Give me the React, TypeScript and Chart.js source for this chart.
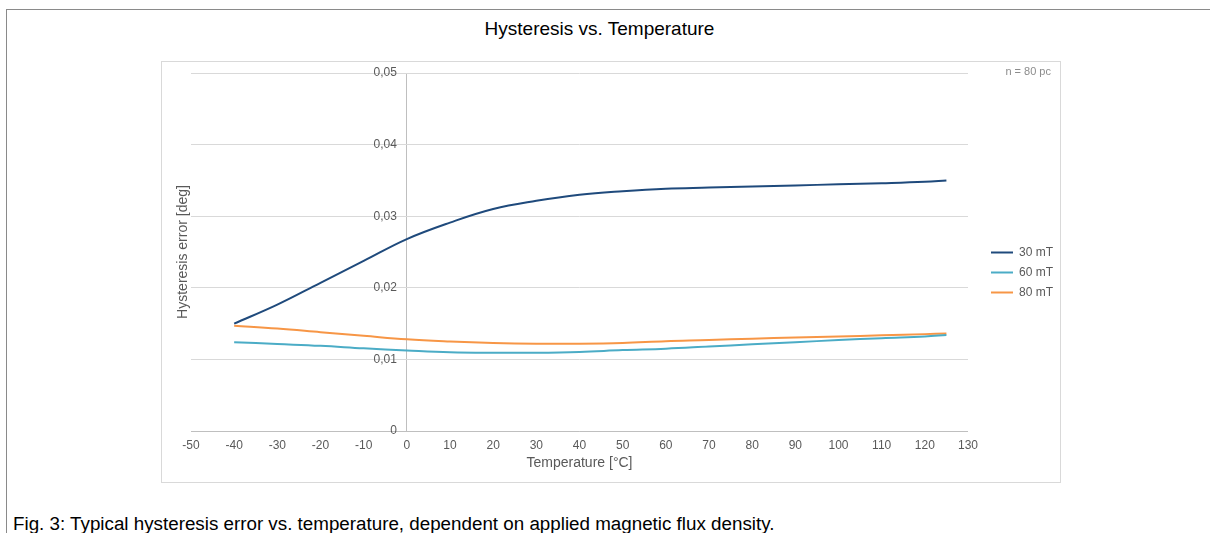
import React, { useEffect, useRef } from "react";
import { Chart, registerables } from "chart.js";

Chart.register(...registerables);

// ---- data ----
const temperatures = [-40, -30, -20, -10, 0, 10, 20, 30, 40, 50, 60, 70, 80, 90, 100, 110, 120, 125];
const series30mT = [0.015, 0.01765, 0.0207, 0.02375, 0.0268, 0.0291, 0.031, 0.03215, 0.033, 0.0335, 0.03385, 0.034, 0.03415, 0.0343, 0.03445, 0.0346, 0.0348, 0.035];
const series60mT = [0.0124, 0.01215, 0.0119, 0.01155, 0.01125, 0.011, 0.01093, 0.01094, 0.01105, 0.0113, 0.0115, 0.0118, 0.0121, 0.0124, 0.0127, 0.01297, 0.0132, 0.0134];
const series80mT = [0.0147, 0.0143, 0.0138, 0.0133, 0.0128, 0.0125, 0.0123, 0.0122, 0.0122, 0.0123, 0.01255, 0.0127, 0.0129, 0.01305, 0.0132, 0.01337, 0.01353, 0.0136];
const seriesLabels = ["30 mT", "60 mT", "80 mT"];
const seriesColors = ["#1f4a7c", "#4bacc6", "#f79646"];

const xMin = -50;
const xMax = 130;
const xStep = 10;
const yMin = 0;
const yMax = 0.05;
const yStep = 0.01;
const yAxisAt = 0; // the value axis crosses the temperature axis at 0 °C

const chartTitle = "Hysteresis vs. Temperature";
const xTitle = "Temperature [°C]";
const yTitle = "Hysteresis error [deg]";
const sampleNote = "n = 80 pc";
const caption = "Fig. 3: Typical hysteresis error vs. temperature, dependent on applied magnetic flux density.";

const FONT = '"Liberation Sans", Arial, Helvetica, sans-serif';
const GRAY = "#595959";
const LABEL_GAP_PX = 10;

const yTitlePlugin = {
  id: "yTitleDraw",
  afterDraw(chart: any) {
    const { ctx, chartArea } = chart;
    ctx.save();
    ctx.translate(chartArea.left - 8, (chartArea.top + chartArea.bottom) / 2);
    ctx.rotate(-Math.PI / 2);
    ctx.textAlign = "center";
    ctx.textBaseline = "middle";
    ctx.fillStyle = GRAY;
    ctx.font = `14px ${FONT}`;
    ctx.fillText(yTitle, 0, 0);
    ctx.restore();
  },
};

function HysteresisChart() {
  const ref = useRef<HTMLCanvasElement | null>(null);
  useEffect(() => {
    if (!ref.current) return;
    Chart.defaults.font.family = FONT;
    const allSeries = [series30mT, series60mT, series80mT];
    // shift the y tick labels a few pixels left of the crossing axis
    const labelOffsetUnits = (LABEL_GAP_PX / 777) * (xMax - xMin);
    const chart = new Chart(ref.current, {
      type: "line",
      data: {
        datasets: allSeries.map((s, i) => ({
          label: seriesLabels[i],
          data: temperatures.map((t, j) => ({ x: t, y: s[j] })),
          borderColor: seriesColors[i],
          backgroundColor: seriesColors[i],
          borderWidth: 2,
          pointRadius: 0,
          tension: 0.4,
          fill: false,
        })),
      },
      options: {
        animation: false,
        responsive: false,
        devicePixelRatio: 1,
        layout: { padding: { left: 30, right: -2, top: 12, bottom: 11 } },
        plugins: {
          legend: {
            position: "right",
            align: "center",
            fullSize: true,
            labels: {
              usePointStyle: true,
              pointStyle: "line",
              pointStyleWidth: 22,
              padding: 8,
              color: GRAY,
              font: { size: 12, family: FONT },
            },
          },
          tooltip: { enabled: false },
          title: { display: false },
        },
        scales: {
          x: {
            type: "linear",
            min: xMin,
            max: xMax,
            ticks: { stepSize: xStep, color: GRAY, font: { size: 12 }, padding: 7 },
            grid: {
              display: true,
              drawTicks: false,
              tickLength: 0,
              drawOnChartArea: true,
              lineWidth: 1,
              color: (c: any) => (c.tick && c.tick.value === yAxisAt ? "#bfbfbf" : "rgba(0,0,0,0)"),
            },
            border: { display: true, color: "#bfbfbf", width: 1 },
            title: { display: true, text: xTitle, color: GRAY, font: { size: 14 }, padding: { top: 3, bottom: 0 } },
            afterFit: (s: any) => {
              s.height = 41;
            },
          },
          y: {
            type: "linear",
            position: { x: yAxisAt - labelOffsetUnits } as any,
            min: yMin,
            max: yMax,
            ticks: {
              stepSize: yStep,
              color: GRAY,
              font: { size: 12 },
              padding: 0,
              callback: (v: any) => (Number(v) === 0 ? "0" : Number(v).toFixed(2).replace(".", ",")),
            },
            grid: { color: "#d9d9d9", drawTicks: false, lineWidth: 1 },
            border: { display: false },
          },
          yPad: {
            type: "linear",
            position: "right",
            display: true,
            ticks: { display: false },
            grid: { display: false, drawTicks: false },
            border: { display: false },
            afterFit: (s: any) => {
              s.width = 15;
            },
          },
        },
      },
      plugins: [yTitlePlugin],
    } as any);
    return () => chart.destroy();
  }, []);
  return (
    <canvas
      ref={ref}
      width={900}
      height={422}
      style={{ position: "absolute", left: 161, top: 61, width: 900, height: 422, display: "block" }}
    />
  );
}

export default function App() {
  useEffect(() => {
    document.body.style.margin = "0";
  }, []);
  return (
    <div style={{ position: "absolute", left: 0, top: 0, width: 1210, height: 533, overflow: "hidden", background: "#fff", fontFamily: FONT }}>
      <div
        style={{
          position: "absolute",
          left: 6,
          top: 9,
          width: 1210,
          height: 530,
          borderTop: "1px solid #8a8a8a",
          borderLeft: "1px solid #8a8a8a",
        }}
      />
      <div
        style={{
          position: "absolute",
          left: 0,
          top: 19,
          width: 1199,
          textAlign: "center",
          fontSize: 19,
          lineHeight: "19px",
          color: "#000",
          whiteSpace: "nowrap",
        }}
      >
        {chartTitle}
      </div>
      <div
        style={{
          position: "absolute",
          left: 161,
          top: 61,
          width: 900,
          height: 422,
          boxSizing: "border-box",
          border: "1px solid #d9d9d9",
        }}
      />
      <HysteresisChart />
      <div
        style={{
          position: "absolute",
          left: 951,
          top: 66,
          width: 100,
          textAlign: "right",
          fontSize: 11,
          lineHeight: "11px",
          color: "#8c8c8c",
          whiteSpace: "nowrap",
        }}
      >
        {sampleNote}
      </div>
      <div
        style={{
          position: "absolute",
          left: 13,
          top: 514,
          fontSize: 18.8,
          lineHeight: "19px",
          color: "#000",
          whiteSpace: "nowrap",
        }}
      >
        {caption}
      </div>
    </div>
  );
}
